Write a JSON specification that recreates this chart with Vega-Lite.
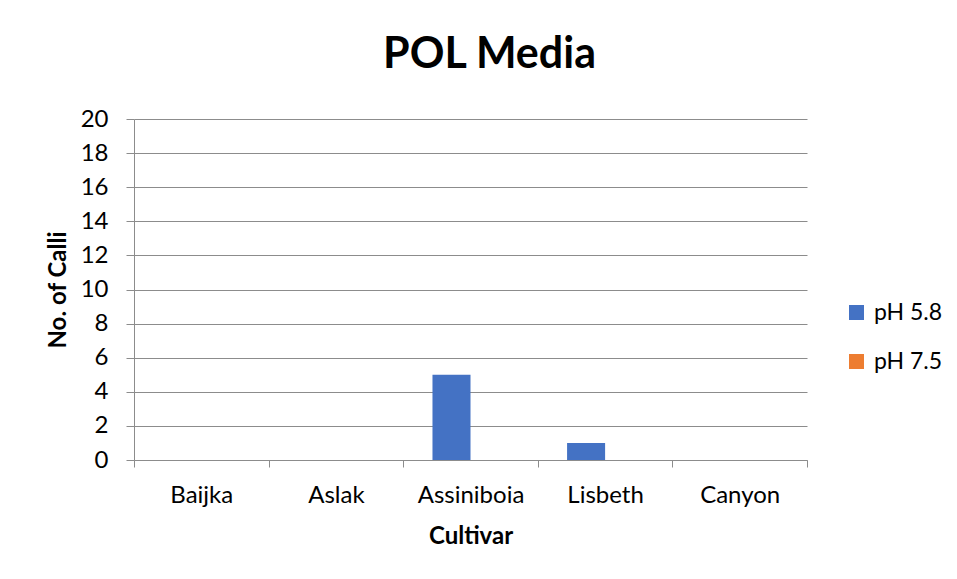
{
  "$schema": "https://vega.github.io/schema/vega-lite/v6.json",
  "autosize": {"type": "none"},
  "width": 673,
  "height": 341,
  "padding": {"left": 134, "top": 119, "right": 150, "bottom": 119},
  "background": "white",
  "title": {
    "text": "POL Media",
    "fontSize": 43,
    "fontWeight": "bold",
    "font": "Lato",
    "color": "#000000",
    "anchor": "middle",
    "baseline": "alphabetic",
    "offset": -4,
    "dx": 19
  },
  "data": {
    "values": [
      {"cultivar": "Baijka", "series": "pH 5.8", "calli": 0},
      {"cultivar": "Baijka", "series": "pH 7.5", "calli": 0},
      {"cultivar": "Aslak", "series": "pH 5.8", "calli": 0},
      {"cultivar": "Aslak", "series": "pH 7.5", "calli": 0},
      {"cultivar": "Assiniboia", "series": "pH 5.8", "calli": 5},
      {"cultivar": "Assiniboia", "series": "pH 7.5", "calli": 0},
      {"cultivar": "Lisbeth", "series": "pH 5.8", "calli": 1},
      {"cultivar": "Lisbeth", "series": "pH 7.5", "calli": 0},
      {"cultivar": "Canyon", "series": "pH 5.8", "calli": 0},
      {"cultivar": "Canyon", "series": "pH 7.5", "calli": 0}
    ]
  },
  "mark": {"type": "bar"},
  "encoding": {
    "x": {
      "field": "cultivar",
      "type": "nominal",
      "sort": ["Baijka", "Aslak", "Assiniboia", "Lisbeth", "Canyon"],
      "scale": {"paddingInner": 0, "paddingOuter": 0},
      "title": "Cultivar",
      "axis": {
        "labelAngle": 0,
        "labelFont": "Lato",
        "labelFontSize": 24,
        "labelColor": "#000000",
        "labelPadding": 16,
        "tickBand": "extent",
        "tickSize": 7,
        "tickColor": "#8c8c8c",
        "domainColor": "#8c8c8c",
        "titleFont": "Lato",
        "titleFontSize": 24,
        "titleFontWeight": "bold",
        "titleColor": "#000000",
        "titlePadding": 17
      }
    },
    "xOffset": {
      "field": "series",
      "type": "nominal",
      "scale": {"paddingInner": 0, "paddingOuter": 0.77}
    },
    "y": {
      "field": "calli",
      "type": "quantitative",
      "scale": {"domain": [0, 20], "nice": false},
      "title": "No. of Calli",
      "axis": {
        "values": [0, 2, 4, 6, 8, 10, 12, 14, 16, 18, 20],
        "labelFont": "Lato",
        "labelFontSize": 24,
        "labelColor": "#000000",
        "labelPadding": 18,
        "tickSize": 8,
        "tickColor": "#8c8c8c",
        "domainColor": "#8c8c8c",
        "gridColor": "#8c8c8c",
        "titleFont": "Lato",
        "titleFontSize": 24,
        "titleFontWeight": "bold",
        "titleColor": "#000000",
        "titlePadding": 10
      }
    },
    "color": {
      "field": "series",
      "type": "nominal",
      "scale": {"domain": ["pH 5.8", "pH 7.5"], "range": ["#4472C4", "#ED7D31"]},
      "legend": {
        "title": null,
        "orient": "none",
        "legendX": 711,
        "legendY": 182,
        "symbolType": "square",
        "symbolSize": 225,
        "symbolStrokeWidth": 0,
        "symbolOpacity": 1,
        "labelFont": "Lato",
        "labelFontSize": 23,
        "labelColor": "#000000",
        "labelOffset": 6,
        "rowPadding": 25
      }
    }
  },
  "config": {
    "view": {"stroke": null},
    "axis": {"gridWidth": 1, "domainWidth": 1, "tickWidth": 1}
  }
}
